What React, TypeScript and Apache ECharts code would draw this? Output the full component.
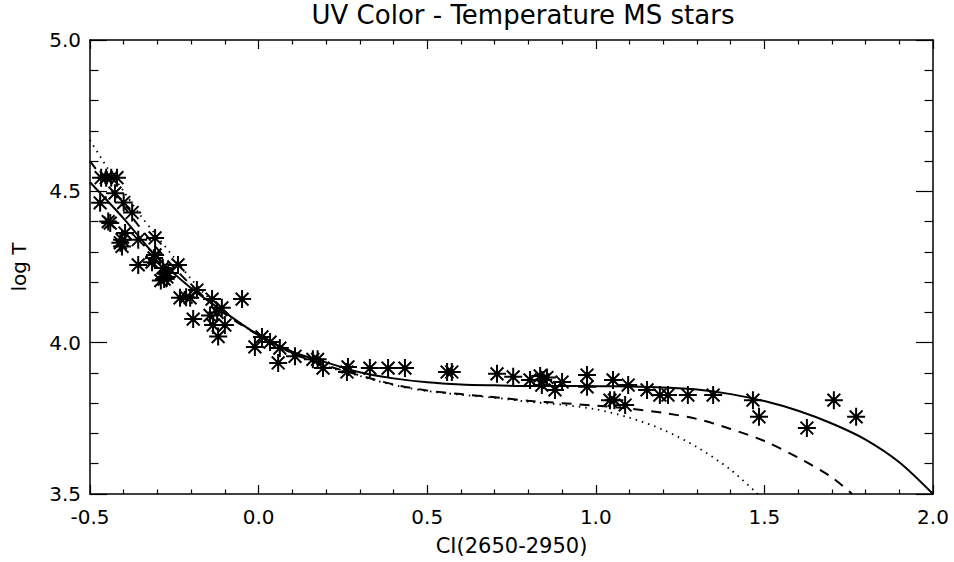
import React, { useEffect, useRef } from "react";
import * as echarts from "echarts";

// Observed stars: colour index CI(2650-2950) and log T
const starCI = [
  -0.467, -0.452, -0.437, -0.42, -0.426, -0.47, -0.4, -0.375, -0.446, -0.44,
  -0.396, -0.405, -0.405, -0.41, -0.357, -0.307, -0.307, -0.31, -0.316, -0.357,
  -0.239, -0.284, -0.268, -0.272, -0.28, -0.29, -0.233, -0.215, -0.203, -0.183,
  -0.138, -0.049, -0.194, -0.123, -0.109, -0.144, -0.135, -0.1, -0.12, -0.011,
  0.01, 0.034, 0.063, 0.058, 0.108, 0.161, 0.175, 0.191, 0.262, 0.265,
  0.33, 0.384, 0.434, 0.559, 0.573, 0.707, 0.755, 0.805, 0.835, 0.844,
  0.84, 0.855, 0.879, 0.9, 0.974, 0.974, 1.051, 1.096, 1.042, 1.055,
  1.087, 1.152, 1.19, 1.214, 1.273, 1.348, 1.466, 1.484, 1.626, 1.706, 1.772,
];
const starLogT = [
  4.545, 4.545, 4.545, 4.545, 4.494, 4.462, 4.463, 4.43, 4.4, 4.395,
  4.362, 4.34, 4.318, 4.33, 4.34, 4.346, 4.29, 4.28, 4.266, 4.257,
  4.257, 4.247, 4.23, 4.217, 4.21, 4.205, 4.148, 4.15, 4.148, 4.174,
  4.144, 4.144, 4.078, 4.1, 4.115, 4.09, 4.058, 4.058, 4.02, 3.986,
  4.019, 4.002, 3.982, 3.933, 3.955, 3.945, 3.945, 3.916, 3.903, 3.92,
  3.916, 3.916, 3.916, 3.903, 3.903, 3.897, 3.887, 3.877, 3.89, 3.877,
  3.86, 3.885, 3.844, 3.87, 3.893, 3.854, 3.877, 3.86, 3.81, 3.81,
  3.794, 3.844, 3.827, 3.827, 3.827, 3.827, 3.81, 3.755, 3.718, 3.81, 3.755,
];

// Calibration curves
const solidCI = [
  -0.5, -0.4, -0.3, -0.2, -0.1, 0, 0.1, 0.2, 0.3, 0.4, 0.5, 0.6, 0.7, 0.8, 0.9,
  1.0, 1.1, 1.2, 1.3, 1.4, 1.5, 1.6, 1.7, 1.8, 1.9, 2.0,
];
const solidLogT = [
  4.53, 4.41, 4.28, 4.18, 4.1, 4.025, 3.97, 3.935, 3.902, 3.882, 3.869, 3.862,
  3.859, 3.857, 3.857, 3.856, 3.855, 3.852, 3.845, 3.83, 3.807, 3.775, 3.733,
  3.68, 3.605, 3.5,
];
const dashedCI = [
  -0.5, -0.4, -0.3, -0.2, -0.1, 0, 0.1, 0.2, 0.3, 0.4, 0.5, 0.6, 0.7, 0.8, 0.9,
  1.0, 1.1, 1.2, 1.3, 1.4, 1.5, 1.6, 1.7, 1.76,
];
const dashedLogT = [
  4.6, 4.45, 4.31, 4.19, 4.095, 4.025, 3.965, 3.925, 3.892, 3.862, 3.842, 3.83,
  3.82, 3.808, 3.8, 3.792, 3.782, 3.768, 3.748, 3.715, 3.675, 3.62, 3.555, 3.5,
];
const dottedCI = [
  -0.5, -0.45, -0.4, -0.35, -0.3, -0.25, -0.2, -0.15, -0.1, -0.05, 0, 0.1, 0.2,
  0.3, 0.4, 0.5, 0.6, 0.7, 0.8, 0.9, 1.0, 1.1, 1.2, 1.3, 1.4, 1.48,
];
const dottedLogT = [
  4.67, 4.58, 4.5, 4.42, 4.35, 4.28, 4.21, 4.15, 4.1, 4.06, 4.025, 3.965, 3.922,
  3.89, 3.86, 3.84, 3.828, 3.818, 3.805, 3.795, 3.78, 3.752, 3.712, 3.655, 3.58,
  3.5,
];

const xTicks = { min: -0.5, max: 2.0, interval: 0.5 };
const yTicks = { min: 3.5, max: 5.0, interval: 0.5 };

const FONT = "DejaVu Sans";
const BLACK = "#000";
const STAR =
  "path://M0,-10L0,10M-10,0L10,0M-7.1,-7.1L7.1,7.1M-7.1,7.1L7.1,-7.1";

const pairs = (xs: number[], ys: number[]) => xs.map((x, i) => [x, ys[i]]);

function axisBase(isX: boolean, showLabels: boolean, position: string) {
  const major = isX ? 9 : 17;
  return {
    type: "value",
    position,
    ...(isX ? xTicks : yTicks),
    axisLine: { show: true, onZero: false, lineStyle: { color: BLACK, width: 1.5 } },
    axisTick: { show: true, inside: true, length: major, lineStyle: { color: BLACK, width: 1.2 } },
    minorTick: {
      show: true,
      splitNumber: 5,
      length: major / 2,
      lineStyle: { color: BLACK, width: 1.2 },
    },
    splitLine: { show: false },
    minorSplitLine: { show: false },
    axisLabel: {
      show: showLabels,
      color: BLACK,
      fontFamily: FONT,
      fontSize: 20,
      margin: isX ? 13 : 9,
      showMinLabel: true,
      showMaxLabel: true,
      formatter: (v: number) => v.toFixed(1),
    },
  };
}

export default function App() {
  const ref = useRef<HTMLDivElement>(null);
  useEffect(() => {
    const chart = echarts.init(ref.current!, null, { renderer: "svg" });
    const option: any = {
      animation: false,
      backgroundColor: "#fff",
      title: {
        text: "UV Color - Temperature MS stars",
        left: 518,
        top: -3,
        textAlign: "center",
        textStyle: { fontFamily: FONT, fontSize: 26, fontWeight: "normal", color: BLACK },
      },
      grid: { left: 90, right: 21, top: 40, bottom: 68, containLabel: false, outerBoundsMode: "none" },
      xAxis: [
        {
          ...axisBase(true, true, "bottom"),
          name: "CI(2650-2950)",
          nameLocation: "middle",
          nameGap: 41,
          nameTextStyle: { fontFamily: FONT, fontSize: 21, color: BLACK },
        },
        axisBase(true, false, "top"),
      ],
      yAxis: [
        {
          ...axisBase(false, true, "left"),
          name: "log T",
          nameLocation: "middle",
          nameGap: 61,
          nameTextStyle: { fontFamily: FONT, fontSize: 20, color: BLACK },
        },
        axisBase(false, false, "right"),
      ],
      series: [
        {
          type: "line",
          data: pairs(solidCI, solidLogT),
          smooth: 0.3,
          showSymbol: false,
          lineStyle: { color: BLACK, width: 2, type: "solid" },
          z: 2,
        },
        {
          type: "line",
          data: pairs(dashedCI, dashedLogT),
          smooth: 0.3,
          showSymbol: false,
          lineStyle: { color: BLACK, width: 2, type: [10, 8] },
          z: 2,
        },
        {
          type: "line",
          data: pairs(dottedCI, dottedLogT),
          smooth: 0.3,
          showSymbol: false,
          lineStyle: { color: BLACK, width: 1.8, type: [1.5, 5] },
          z: 2,
        },
        {
          type: "scatter",
          data: pairs(starCI, starLogT),
          symbol: STAR,
          symbolSize: 18,
          itemStyle: { color: BLACK, borderColor: BLACK, borderWidth: 2, opacity: 1 },
          z: 3,
        },
      ],
    };
    chart.setOption(option);
    return () => chart.dispose();
  }, []);
  return (
    <div
      ref={ref}
      style={{ position: "fixed", left: 0, top: 0, width: 954, height: 562 }}
    />
  );
}
